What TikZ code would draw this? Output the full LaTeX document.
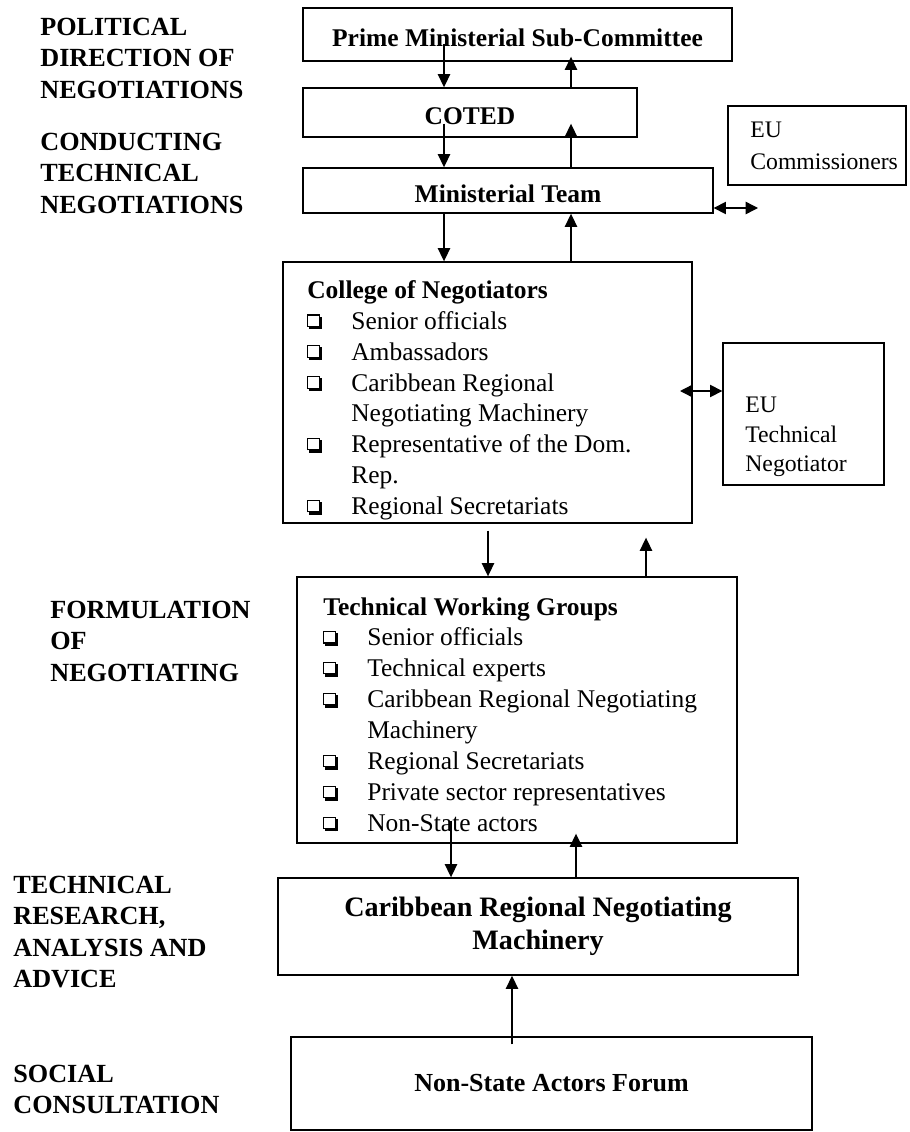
\documentclass[tikz,border=0pt]{standalone}
\usepackage{fontspec}
\setmainfont{Liberation Serif}
\usetikzlibrary{arrows.meta,calc}

% hollow square bullet with a drop shadow
\newcommand{\qbox}{\begingroup\setlength{\unitlength}{1pt}%
  \begin{picture}(8.4,8.2)%
  \put(0,1.4){\rule{7pt}{0.6pt}}%
  \put(0,7.8){\rule{7pt}{0.6pt}}%
  \put(0,1.4){\rule{0.6pt}{7pt}}%
  \put(6.4,1.4){\rule{0.6pt}{7pt}}%
  \put(1,0){\rule{7.4pt}{1.6pt}}%
  \put(6.8,0){\rule{1.6pt}{7.2pt}}%
  \end{picture}\endgroup}
\newcommand{\sqitem}{\makebox[0.88cm][l]{\qbox}}
\newcommand{\sqcont}{\hspace*{0.88cm}}

\begin{document}
\begin{tikzpicture}[x=0.02cm, y=-0.02cm,
    box/.style={draw, line width=0.8pt, inner sep=0pt},
    headbox/.style={box, font=\fontsize{14.5}{17.6}\selectfont\bfseries, text height=14.2pt, text depth=0pt},
    arr/.style={-{Triangle[width=7pt,length=7.5pt]}, line width=0.8pt},
    darr/.style={{Triangle[width=7pt,length=7pt]}-{Triangle[width=7pt,length=7pt]}, line width=0.8pt},
    lvl/.style={anchor=north west, align=left, inner sep=0pt, font=\fontsize{14.9}{17.8}\selectfont\bfseries},
    lst/.style={anchor=north west, align=left, inner sep=0pt, font=\fontsize{14.5}{17.6}\selectfont},
    eutxt/.style={anchor=north west, align=left, inner sep=0pt, font=\fontsize{13.5}{17.5}\selectfont}]

    \useasboundingbox (0,0) rectangle (909,1132);

    % Level labels on the left
    \node[lvl] (polit) at (40,18) {POLITICAL\\DIRECTION OF\\NEGOTIATIONS};
    \node[lvl] (conduct) at (40,133) {CONDUCTING\\TECHNICAL\\NEGOTIATIONS};
    \node[lvl] (formul) at (50,601) {FORMULATION\\OF\\NEGOTIATING};
    \node[lvl] (techres) at (13,876) {TECHNICAL\\RESEARCH,\\ANALYSIS AND\\ADVICE};
    \node[lvl] (social) at (13,1065) {SOCIAL\\CONSULTATION};

    % Boxes of the negotiating structure
    \node[headbox, minimum width=8.58cm, minimum height=1.06cm] (prime) at (517.5,34.5) {Prime Ministerial Sub-Committee};
    \node[headbox, minimum width=6.68cm, minimum height=0.98cm] (coted) at (470,112.5) {COTED};
    \node[headbox, minimum width=8.2cm, minimum height=0.9cm] (minteam) at (508,190.5) {Ministerial Team};
    \node[box, minimum width=3.56cm, minimum height=1.58cm] (eucom) at (817,145.5) {};
    \node[box, minimum width=8.18cm, minimum height=5.22cm] (college) at (487.5,392.5) {};
    \node[box, minimum width=3.22cm, minimum height=2.84cm] (eutech) at (803.5,414) {};
    \node[box, minimum width=8.8cm, minimum height=5.32cm] (twg) at (517,710) {};
    \node[box, minimum width=10.4cm, minimum height=1.94cm, align=center,
          font=\fontsize{16}{18.7}\selectfont\bfseries] (crnm) at (538,926.5) {Caribbean Regional Negotiating\\Machinery};
    \node[box, minimum width=10.42cm, minimum height=1.86cm,
          font=\fontsize{14.8}{17.6}\selectfont\bfseries] (nsaf) at (551.5,1083.5) {Non-State Actors Forum};

    % Texts of the EU boxes
    \node[eutxt, font=\fontsize{13.5}{18}\selectfont] (eucomtxt) at (750,122) {EU\\Commissioners};
    \node[eutxt, font=\fontsize{13.5}{16.8}\selectfont] (eutechtxt) at (745,397) {EU\\Technical\\Negotiator};

    % Member lists
    \node[lst] (collegelist) at (307,280) {\textbf{College of Negotiators}\\
        \sqitem Senior officials\\
        \sqitem Ambassadors\\
        \sqitem Caribbean Regional\\
        \sqcont Negotiating Machinery\\
        \sqitem Representative of the Dom.\\
        \sqcont Rep.\\
        \sqitem Regional Secretariats};
    \node[lst] (twglist) at (323,597) {\textbf{Technical Working Groups}\\
        \sqitem Senior officials\\
        \sqitem Technical experts\\
        \sqitem Caribbean Regional Negotiating\\
        \sqcont Machinery\\
        \sqitem Regional Secretariats\\
        \sqitem Private sector representatives\\
        \sqitem Non-State actors};

    % Columns of the vertical arrows
    \coordinate (c1) at (444,0);
    \coordinate (c2) at (571,0);
    \coordinate (c3) at (488,0);
    \coordinate (c4) at (646,0);
    \coordinate (c5) at (451,0);
    \coordinate (c6) at (576,0);
    \coordinate (c7) at (512,0);

    % Down and up arrows between the levels
    \draw[arr] ($(prime.south -| c1)+(0,-18)$) -- (coted.north -| c1);
    \draw[arr] (coted.north -| c2) -- ($(prime.south -| c2)+(0,-5)$);
    \draw[arr] ($(coted.south -| c1)+(0,-14)$) -- (minteam.north -| c1);
    \draw[arr] (minteam.north -| c2) -- ($(coted.south -| c2)+(0,-14)$);
    \draw[arr] (minteam.south -| c1) -- (college.north -| c1);
    \draw[arr] (college.north -| c2) -- (minteam.south -| c2);
    \draw[arr] ($(college.south -| c3)+(0,7)$) -- (twg.north -| c3);
    \draw[arr] (twg.north -| c4) -- ($(college.south -| c4)+(0,14)$);
    \draw[arr] ($(twg.south -| c5)+(0,-23)$) -- (crnm.north -| c5);
    \draw[arr] (crnm.north -| c6) -- ($(twg.south -| c6)+(0,-10)$);
    \draw[arr] ($(nsaf.north -| c7)+(0,8)$) -- (crnm.south -| c7);

    % Links to the EU side
    \coordinate (eucomend) at (758,208);
    \draw[darr] (minteam.east |- eucomend) -- (eucomend);
    \coordinate (collegeend) at (680,391);
    \draw[darr] (collegeend) -- (collegeend -| eutech.west);

\end{tikzpicture}
\end{document}
